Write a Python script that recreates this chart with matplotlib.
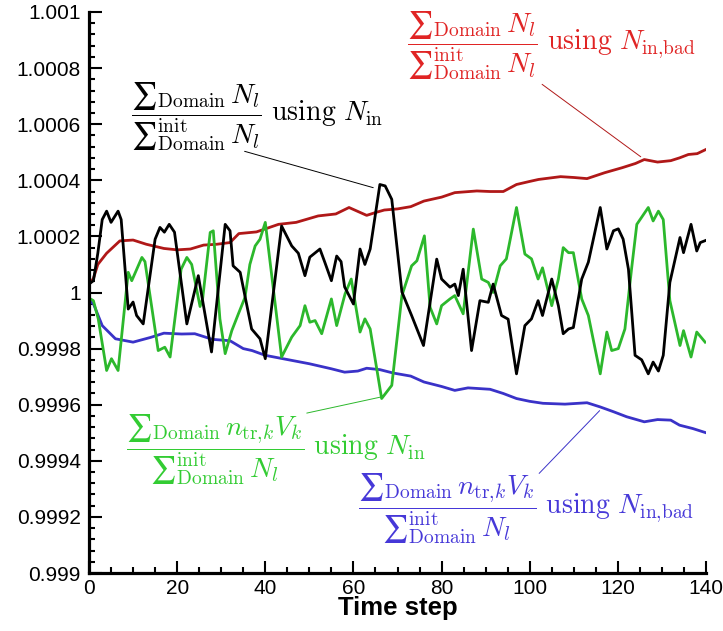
import matplotlib
matplotlib.use('Agg')
import matplotlib.pyplot as plt
from matplotlib.ticker import MultipleLocator
import numpy as np

# values are stored as deviation from 1, in units of 1e-4
SCALE = 1e-4

red_steps = [0, 1, 2, 4, 7, 10, 13, 17, 20, 23, 26, 29, 32, 34, 38, 43, 47, 52, 56, 59,
             63, 65, 67, 70, 73, 76, 80, 83, 88, 91, 94, 97, 100, 102, 107, 110, 113,
             117, 121, 124, 126, 129, 132, 134, 136, 138, 140]
red_vals = [0.3, 0.5, 1.0, 1.4, 1.84, 1.87, 1.72, 1.57, 1.52, 1.55, 1.69, 1.72, 1.78,
            2.1, 2.16, 2.43, 2.5, 2.73, 2.8, 3.03, 2.75, 2.85, 2.94, 2.98, 3.06, 3.26,
            3.4, 3.56, 3.62, 3.6, 3.6, 3.85, 3.96, 4.03, 4.13, 4.1, 4.06, 4.27, 4.45,
            4.6, 4.74, 4.65, 4.7, 4.8, 4.92, 4.95, 5.1]

blue_steps = [0, 1, 3, 6, 10, 14, 17, 21, 24, 28, 32, 35, 37, 40, 44, 50, 55, 58, 61,
              63, 66, 69, 73, 76, 80, 83, 86, 91, 94, 97, 100, 103, 108, 113, 116, 119,
              122, 126, 129, 132, 134, 137, 140]
blue_vals = [-0.3, -0.4, -1.18, -1.65, -1.77, -1.6, -1.45, -1.48, -1.47, -1.67, -1.72,
             -2.0, -2.07, -2.24, -2.36, -2.54, -2.72, -2.84, -2.8, -2.7, -2.75, -2.87,
             -2.98, -3.19, -3.35, -3.49, -3.4, -3.45, -3.6, -3.78, -3.88, -3.95, -3.98,
             -3.93, -4.08, -4.25, -4.43, -4.61, -4.53, -4.55, -4.73, -4.85, -5.0]

black_steps = [0, 1, 2, 3, 4, 5, 6.6, 7.3, 8.9, 10, 10.8, 12.3, 15, 16.1, 17.1, 18.2,
               19.4, 22.2, 24.8, 27.8, 30.9, 32, 32.7, 34.3, 36.9, 38.8, 40, 43.7, 46,
               47.5, 49, 50.1, 52.4, 53.5, 55, 56.2, 57.2, 58, 60, 61.5, 62.6, 63.8, 66,
               67.2, 68.7, 71, 73.2, 75.9, 78.9, 80, 81.9, 83, 83.8, 84.9, 86.8, 88.7,
               90.6, 91.7, 93.6, 95.1, 97, 98.9, 100.4, 101.9, 102.9, 105, 106.5, 107.6,
               108.8, 109.9, 111.8, 113.3, 116, 117.5, 119, 120.1, 121.2, 122.4, 123.9,
               125.4, 126.9, 128, 129.2, 130.3, 131.8, 134.1, 134.9, 136.6, 137.9, 138.7,
               140]
black_vals = [0.3, 0.42, 1.4, 2.6, 2.9, 2.5, 2.9, 2.6, -0.59, -0.34, -0.82, -1.12, 1.9,
              2.32, 2.15, 2.43, 2.15, -1.12, 0.6, -2.12, 2.43, 2.2, 0.95, 0.72, -1.3,
              -1.65, -2.36, 2.37, 1.66, 1.4, 0.6, 1.26, 1.55, 1.08, 0.42, 1.3, 1.1, 0.2,
              -0.41, 1.55, 1.0, 1.55, 3.85, 3.8, 3.32, 0.02, -0.82, -1.89, 1.19, 0.48,
              0.19, 0.3, -0.11, 0.83, -2.07, -0.29, -0.35, 0.3, -0.82, -0.95, -2.9,
              -1.18, -0.94, -0.29, -0.82, 0.48, -0.47, -1.47, -1.3, -1.25, 0.48, 1.08,
              3.03, 1.55, 2.2, 2.27, 1.9, 0.83, -2.24, -2.4, -2.9, -2.48, -2.8, -2.24,
              0.36, 1.96, 1.42, 2.43, 1.48, 1.78, 1.86]

green_steps = [0, 1, 2.1, 4, 5.1, 6.6, 8.9, 9.7, 12, 12.7, 15.7, 17.2, 18.4, 20.9, 22.2,
               23.3, 25.2, 25.8, 27.5, 28.2, 29.7, 30.9, 32.4, 33.9, 35.4, 36.5, 37.7,
               38.8, 40, 43.7, 46, 47.9, 49, 50.1, 51.3, 52.8, 55, 56.2, 58.1, 59.5,
               61.5, 62.6, 63.8, 66.4, 68.7, 71, 73.2, 74.4, 76.1, 77.4, 78.9, 80, 81.9,
               83, 84.9, 87.2, 89.1, 90.6, 91.7, 93.3, 94.7, 97, 98.9, 100.4, 101.9,
               102.9, 105, 106.5, 107.6, 108.8, 109.9, 111.8, 113.3, 116, 117.5, 118.6,
               120.1, 121.6, 123.1, 124.3, 126.9, 128, 129.2, 130.3, 131.8, 134.1,
               134.9, 136.6, 137.9, 139.8]
green_vals = [-0.2, -0.29, -0.94, -2.78, -2.36, -2.78, 0.72, 0.42, 1.25, 1.1, -2.07,
              -1.95, -2.3, 0.83, 1.25, 1.0, -0.5, -0.2, 2.14, 2.2, -0.94, -2.18, -1.36,
              -0.76, -0.17, 1.0, 1.66, 1.9, 2.5, -2.3, -1.59, -1.18, -0.47, -1.06, -1.0,
              -1.47, -0.23, -1.18, -0.05, 0.48, -1.41, -0.94, -1.3, -3.78, -3.31, -0.11,
              0.95, 1.13, 2.02, -0.53, -1.12, -0.47, -0.23, -0.11, -0.76, 2.26, 0.48,
              0.36, 0.0, 0.95, 1.2, 3.03, 1.37, 1.2, 0.48, 0.88, -0.47, 0.48, 1.6, 1.42,
              1.42, -0.23, -0.82, -2.9, -1.41, -2.07, -2.0, -1.3, 0.83, 2.43, 3.03, 2.55,
              2.9, 2.6, -0.29, -1.89, -1.36, -2.3, -1.41, -1.77]

ytick_vals = [0.999, 0.9992, 0.9994, 0.9996, 0.9998, 1.0, 1.0002, 1.0004, 1.0006, 1.0008, 1.001]
ytick_labels = ['0.999', '0.9992', '0.9994', '0.9996', '0.9998', '1',
                '1.0002', '1.0004', '1.0006', '1.0008', '1.001']

red_label = (r'$\dfrac{∑_{\mathrm{Domain}}\, N_l}{∑_{\mathrm{Domain}}^{\mathrm{init}}\, N_l}'
             r'\ \mathrm{using}\ N_{\mathrm{in{,}bad}}$')
black_label = (r'$\dfrac{∑_{\mathrm{Domain}}\, N_l}{∑_{\mathrm{Domain}}^{\mathrm{init}}\, N_l}'
               r'\ \mathrm{using}\ N_{\mathrm{in}}$')
green_label = (r'$\dfrac{∑_{\mathrm{Domain}}\, n_{\mathrm{tr}{,}k} V_k}{∑_{\mathrm{Domain}}^{\mathrm{init}}\, N_l}'
               r'\ \mathrm{using}\ N_{\mathrm{in}}$')
blue_label = (r'$\dfrac{∑_{\mathrm{Domain}}\, n_{\mathrm{tr}{,}k} V_k}{∑_{\mathrm{Domain}}^{\mathrm{init}}\, N_l}'
              r'\ \mathrm{using}\ N_{\mathrm{in{,}bad}}$')

plt.rcParams['mathtext.fontset'] = 'cm'
plt.rcParams['font.family'] = ['Liberation Sans', 'DejaVu Sans']

fig = plt.figure(figsize=(7.23, 6.31), dpi=100)
ax = fig.add_axes([0.1231, 0.0919, 0.8534, 0.8891])

def dev(v):
    return 1 + np.array(v) * SCALE

ax.plot(red_steps, dev(red_vals), color='#b01818', lw=2.0)
ax.plot(blue_steps, dev(blue_vals), color='#3a32c8', lw=2.0)
ax.plot(green_steps, dev(green_vals), color='#2cb82c', lw=2.0)
ax.plot(black_steps, dev(black_vals), color='black', lw=2.0)

ax.set_xlim(0, 140)
ax.set_ylim(0.999, 1.001)
ax.set_yticks(ytick_vals)
ax.set_yticklabels(ytick_labels)
ax.xaxis.set_major_locator(MultipleLocator(20))
ax.xaxis.set_minor_locator(MultipleLocator(5))
ax.yaxis.set_minor_locator(MultipleLocator(0.00004))
ax.tick_params(which='both', direction='in', labelsize=15, width=1.5, pad=4)
ax.tick_params(which='major', length=9)
ax.tick_params(which='minor', length=4)
ax.tick_params(axis='y', pad=6)
for s in ['top', 'right']:
    ax.spines[s].set_visible(False)
for s in ['left', 'bottom']:
    ax.spines[s].set_linewidth(2.3)
ax.set_xlabel('Time step', fontsize=18.5, fontweight='bold', labelpad=-1)

# labels with leader lines
ax.text(0.749, 0.940, red_label, transform=ax.transAxes, color='#e02424',
        fontsize=20, ha='center', va='center')
ax.annotate('', xy=(125.7, 1.000478), xytext=(102.3, 1.000748),
            arrowprops=dict(arrowstyle='-', color='#b01818', lw=0.7))

ax.text(0.272, 0.8126, black_label, transform=ax.transAxes, color='black',
        fontsize=20, ha='center', va='center')
ax.annotate('', xy=(65.1, 1.000371), xytext=(34.7, 1.000506),
            arrowprops=dict(arrowstyle='-', color='black', lw=0.7))

ax.text(0.302, 0.220, green_label, transform=ax.transAxes, color='#33cc33',
        fontsize=20, ha='center', va='center')
ax.annotate('', xy=(66.7, 0.999629), xytext=(48.8, 0.999568),
            arrowprops=dict(arrowstyle='-', color='#2cb82c', lw=0.7))

ax.text(0.708, 0.1137, blue_label, transform=ax.transAxes, color='#4638d8',
        fontsize=20, ha='center', va='center')
ax.annotate('', xy=(116.3, 0.999586), xytext=(101.7, 0.999348),
            arrowprops=dict(arrowstyle='-', color='#3a32c8', lw=0.7))

plt.savefig('out.png', dpi=100)
